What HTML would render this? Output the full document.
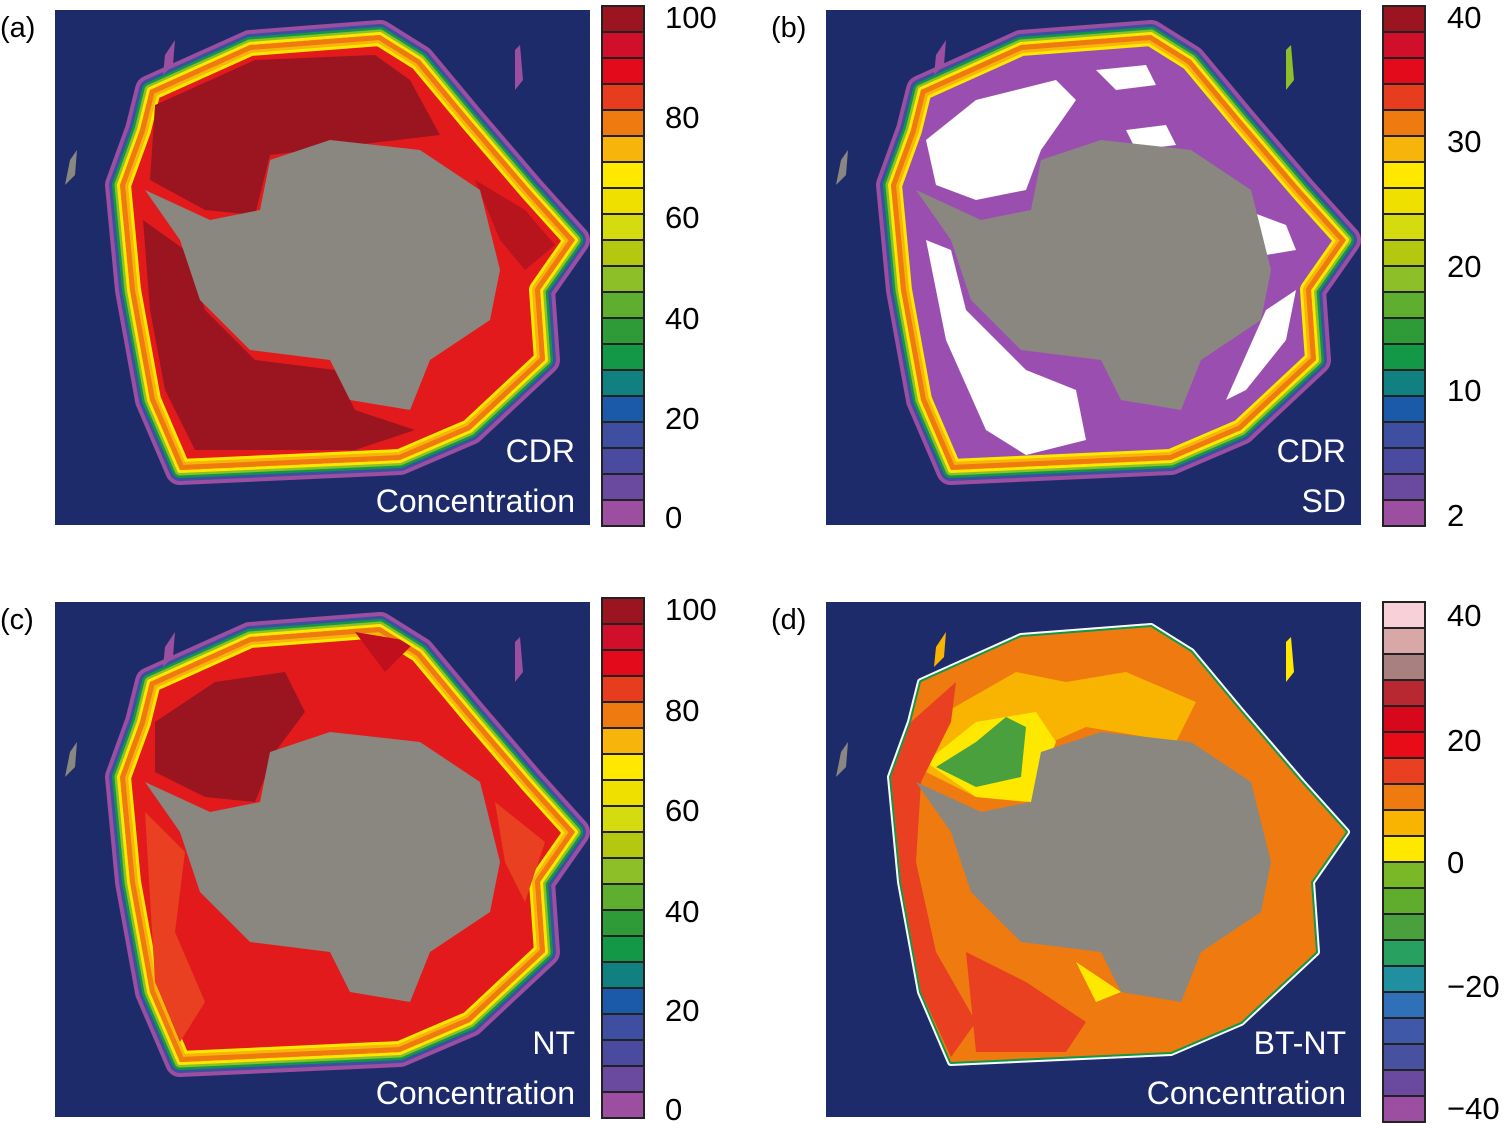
<!DOCTYPE html>
<html><head><meta charset="utf-8"><style>
html,body{margin:0;padding:0;background:#fff;width:1505px;height:1130px;overflow:hidden}
svg{display:block}
text{font-family:"Liberation Sans",sans-serif}
</style></head><body>
<svg id="s" width="1505" height="1130" viewBox="0 0 1505 1130" xmlns="http://www.w3.org/2000/svg">
<defs>
<polygon id="outer" points="95,80 195,35 325,25 365,50 415,110 475,180 520,230 485,280 490,350 415,420 345,450 125,460 95,390 75,280 65,175 85,120"/>
<polygon id="cont" points="215,150 275,130 365,140 425,180 445,260 435,310 375,350 355,400 295,390 275,350 195,340 145,290 125,230 90,180 155,210 205,200"/>
<clipPath id="cl"><use href="#outer"/></clipPath>
</defs>
</svg>
<script>
const s=document.getElementById('s');
let h='';
const panels=[[55,10,'a'],[826,10,'b'],[55,602,'c'],[826,602,'d']];
function ring(fillInner,inner){
 let r='';
 [['#9c4ea0',30],['#3e4ea0',22],['#109848',16],['#8cbf28',11],['#ffe800',6]].forEach(([c,w])=>{
  r+=`<use href="#outer" fill="${c}" stroke="${c}" stroke-width="${w}" stroke-linejoin="round"/>`;});
 r+=`<use href="#outer" fill="${fillInner}"/>`;
 r+=`<g clip-path="url(#cl)">`;
 [['#ffe800',22],['#f7b40a',16],['#ee7a10',10]].forEach(([c,w])=>{
  r+=`<use href="#outer" fill="none" stroke="${c}" stroke-width="${w}" stroke-linejoin="round"/>`;});
 r+=inner+`</g>`;
 return r;
}
panels.forEach(([x,y,k],i)=>{
 h+=`<g transform="translate(${x},${y})"><rect width="535" height="515" fill="#1e2b6b"/>`;
 if(k==='a'){
  h+=ring('#e31a1c',
  `<polygon points="100,95 200,50 320,45 355,70 385,125 300,135 215,145 200,205 150,200 95,170" fill="#9b1520"/>
   <polygon points="88,210 130,240 150,300 200,350 280,360 300,400 360,420 300,440 140,440 110,380 95,300" fill="#9b1520"/>
   <polygon points="420,170 470,200 500,235 470,260 445,230" fill="#b8141e"/>`);
 } else if(k==='b'){
  h+=ring('#9a4fb0',
  `<polygon points="100,130 150,90 230,70 250,90 215,140 200,180 150,190 110,175" fill="#fff"/>
   <polygon points="100,230 125,240 140,300 200,360 250,380 260,430 200,445 160,420 120,330" fill="#fff"/>
   <polygon points="270,60 320,55 330,75 290,80" fill="#fff"/>
   <polygon points="300,120 340,115 350,135 310,140" fill="#fff"/>
   <polygon points="420,200 460,215 470,240 440,245" fill="#fff"/>
   <polygon points="440,300 470,280 460,330 420,380 400,390" fill="#fff"/>`);
 } else if(k==='c'){
  h+=ring('#e31a1c',
  `<polygon points="100,120 160,80 230,70 250,110 220,150 200,200 150,195 100,170" fill="#9b1520"/>
   <polygon points="90,210 130,250 120,330 150,400 125,440 100,380" fill="#e84020"/>
   <polygon points="300,30 360,40 330,70" fill="#c0101e"/>
   <polygon points="440,200 490,240 470,300 450,260" fill="#e84020"/>`);
 } else {
  ['#ffffff','#109848'].forEach((c,j)=>{h+=`<use href="#outer" fill="${c}" stroke="${c}" stroke-width="${8-j*4}" stroke-linejoin="round"/>`;});
  h+=`<use href="#outer" fill="#ee7a10"/>`;
  h+=`<polygon points="80,170 120,110 190,70 240,80 300,70 370,100 350,140 260,125 215,145 200,200 150,195 100,170" fill="#f8b400"/>`;
  h+=`<polygon points="100,160 150,120 210,110 230,140 205,200 150,195" fill="#ffe800"/>`;
  h+=`<polygon points="110,165 150,140 180,115 200,125 195,175 150,185" fill="#4aa03c"/>`;
  h+=`<polygon points="65,175 85,120 130,80 125,120 95,180 90,260 110,350 150,420 125,455 95,390 75,280" fill="#e84020"/>`;
  h+=`<polygon points="140,350 200,380 260,420 240,450 150,450" fill="#e84020"/>`;
  h+=`<polygon points="250,360 295,390 270,400" fill="#ffe800"/>`;
 }
 h+=`<use href="#cont" fill="#8a8780"/>`;
 h+=`<polygon points="15,150 22,140 20,165 10,175" fill="#8a8780"/><polygon points="460,40 465,35 468,70 460,80" fill="${k==='d'?'#ffe800':(k==='b'?'#8cbf28':'#9c4ea0')}"/>`;
 h+=`<polygon points="110,45 120,30 118,55 108,65" fill="${k==='d'?'#f8b400':'#9c4ea0'}"/>`;
 h+='</g>';
 h+=`<text x="${x-55}" y="${y+27}" font-size="29">(${k})</text>`;
});
const labels=[['CDR','Concentration'],['CDR','SD'],['NT','Concentration'],['BT-NT','Concentration']];
labels.forEach((l,i)=>{const [x,y]=panels[i];
 h+=`<text x="${x+520}" y="${y+452}" font-size="32" fill="#fff" text-anchor="end">${l[0]}</text>`;
 h+=`<text x="${x+520}" y="${y+502}" font-size="32" fill="#fff" text-anchor="end">${l[1]}</text>`;});
const ca=['#9b1520','#d0102a','#e30a1c','#e73c1e','#ee7a10','#f7b40a','#ffe800','#f0e000','#d4dc10','#b4c810','#8cbf28','#5fae30','#2f9b38','#139848','#108080','#1a5aa8','#3e4ea0','#4a4aa0','#6a4a9e','#9c4ea0'];
const cd=['#f8d0d8','#d8a8a8','#a88080','#b82830','#d8081c','#e80c18','#e84020','#ee7a10','#f8b400','#ffe800','#7ab828','#60ac2c','#4aa03c','#28a060','#2090a0','#3070b8','#4058a8','#4850a0','#6a4a9e','#9c4ea0'];
const bars=[[602,6,ca,[[100,17],[80,117],[60,217],[40,318],[20,418],[0,517]],665],
 [1383,6,ca,[[40,17],[30,141],[20,266],[10,390],[2,515]],1447],
 [602,598,ca,[[100,609],[80,710],[60,810],[40,911],[20,1010],[0,1109]],665],
 [1383,602,cd,[[40,615],[20,740],[0,862],['\u221220',986],['\u221240',1108]],1447]];
bars.forEach(([x,y,c,t,tx])=>{
 const hh=26;
 c.forEach((col,j)=>{h+=`<rect x="${x}" y="${y+j*hh}" width="42" height="${hh}" fill="${col}" stroke="#222" stroke-width="2"/>`;});
 t.forEach(([v,ty])=>{h+=`<text x="${tx}" y="${ty+11}" font-size="31">${v}</text>`;});
});
s.insertAdjacentHTML('beforeend',h);
</script>
</body></html>
